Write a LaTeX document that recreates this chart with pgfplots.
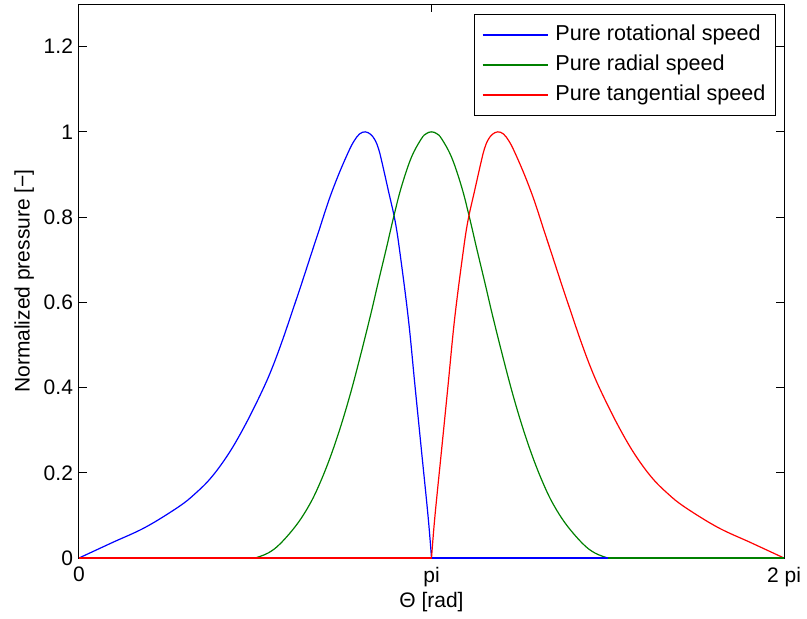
\documentclass[border=0pt]{standalone}
\usepackage{fontspec}
\setmainfont{Liberation Sans}
\usepackage{pgfplots}
\pgfplotsset{compat=1.18}
\definecolor{mblue}{rgb}{0,0,1}
\definecolor{mgreen}{rgb}{0,0.5,0}
\definecolor{mred}{rgb}{1,0,0}
\begin{document}
\begin{tikzpicture}
\begin{axis}[
  at={(0,0)}, anchor=south west,
  scale only axis, width=352.5pt, height=277pt,
  xmin=0, xmax=6.2831853, ymin=0, ymax=1.3,
  xtick={0,3.14159265,6.2831853}, xticklabels={0,pi,2 pi},
  ytick={0,0.2,0.4,0.6,0.8,1,1.2}, yticklabels={0,0.2,0.4,0.6,0.8,1,1.2},
  tick align=inside, major tick length=4pt,
  tick style={black, line width=0.5pt},
  axis line style={black, line width=0.5pt},
  ticklabel style={font=\fontsize{10.5}{12}\selectfont},
  xticklabel style={yshift=-1pt},
  yticklabel style={xshift=0.5pt},
  xlabel={Θ [rad]}, ylabel={Normalized pressure [−]},
  label style={font=\fontsize{10.5}{12}\selectfont},
  xlabel style={yshift=4pt},
  ylabel style={yshift=-2pt},
  legend style={at={(1,1)}, anchor=north east, xshift=-4pt, yshift=-5pt,
    draw=black, line width=0.5pt, fill=white,
    font=\fontsize{10.8}{13}\selectfont,
    inner xsep=4pt, inner ysep=4pt, row sep=2.5pt, column sep=2.5pt,
    nodes={inner sep=1pt, text height=8pt, text depth=2.5pt},
    cells={anchor=west}},
  legend image code/.code={\draw[#1] (0pt,0pt) -- (32.5pt,0pt);},
  legend entries={Pure rotational speed, Pure radial speed, Pure tangential speed},
]
\addplot[draw=mblue, line width=0.6pt, smooth, tension=0.6] coordinates {
(0,0) (0.295,0.036) (0.591,0.072) (0.887,0.12) (1.035,0.151) (1.182,0.19)
(1.339,0.247) (1.487,0.315) (1.634,0.393) (1.723,0.447) (1.812,0.51)
(1.900,0.578) (1.989,0.648) (2.078,0.72) (2.137,0.767) (2.226,0.839)
(2.314,0.90) (2.403,0.954) (2.45,0.978) (2.50,0.995) (2.551,1.0)
(2.60,0.994) (2.640,0.980) (2.67,0.96) (2.698,0.931) (2.758,0.861)
(2.817,0.791) (2.861,0.715) (2.935,0.562) (2.994,0.405) (3.053,0.25)
(3.112,0.095) (3.1416,0)
};
\addplot[draw=mgreen, line width=0.6pt, smooth, tension=0.6] coordinates {
(1.5708,0) (1.6875,0.012) (1.7952,0.034) (1.9451,0.08) (2.0645,0.13)
(2.1542,0.18) (2.2440,0.24) (2.3338,0.31) (2.4235,0.39) (2.5133,0.48)
(2.6030,0.575) (2.6632,0.643) (2.7377,0.725) (2.8041,0.80) (2.8723,0.87)
(2.9621,0.94) (3.0518,0.984) (3.0967,0.996) (3.1416,1.0) (3.1865,0.996)
(3.2314,0.984) (3.3211,0.94)
(3.4109,0.87) (3.4791,0.80) (3.5455,0.725) (3.6200,0.643) (3.6802,0.575)
(3.7699,0.48) (3.8597,0.39) (3.9494,0.31) (4.0392,0.24) (4.1290,0.18)
(4.2187,0.13) (4.3381,0.08) (4.4880,0.034) (4.5957,0.012) (4.7124,0)
};
\addplot[draw=mred, line width=0.6pt, smooth, tension=0.6] coordinates {
(3.1416,0) (3.171,0.095) (3.230,0.25) (3.289,0.405) (3.348,0.562)
(3.422,0.715) (3.466,0.791) (3.525,0.861) (3.585,0.931) (3.613,0.96)
(3.643,0.980) (3.683,0.994) (3.732,1.0) (3.783,0.995) (3.833,0.978)
(3.880,0.954) (3.969,0.90) (4.057,0.839)
(4.146,0.767) (4.205,0.72) (4.294,0.648) (4.383,0.578) (4.471,0.51)
(4.560,0.447) (4.649,0.393) (4.796,0.315) (4.944,0.247) (5.101,0.19)
(5.248,0.151) (5.396,0.12) (5.692,0.072) (5.988,0.036) (6.2832,0)
};
\addplot[draw=mblue, line width=0.6pt, forget plot] coordinates {(3.1416,0) (6.2832,0)};
\addplot[draw=mgreen, line width=0.6pt, forget plot] coordinates {(0,0) (1.5708,0)};
\addplot[draw=mgreen, line width=0.6pt, forget plot] coordinates {(4.7124,0) (6.2832,0)};
\addplot[draw=mred, line width=0.6pt, forget plot] coordinates {(0,0) (3.1416,0)};
\end{axis}
\pgfresetboundingbox
\useasboundingbox (-39.5pt,-30pt) rectangle (364pt,279pt);
\end{tikzpicture}
\end{document}
